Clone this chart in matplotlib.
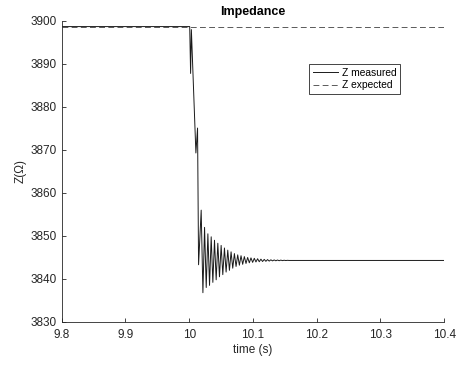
import matplotlib
matplotlib.use("Agg")
import matplotlib.pyplot as plt

plt.rcParams['font.family'] = ['Liberation Sans', 'DejaVu Sans']

# Measured impedance
t_meas = [9.8, 10.0008, 10.0022, 10.0034, 10.0105, 10.0131,
          10.0147, 10.0188, 10.0215, 10.0241, 10.0267, 10.0293, 10.0319, 10.0345,
          10.0371, 10.0397, 10.0423, 10.0449, 10.0475, 10.0501, 10.0527, 10.0553,
          10.0579, 10.0605, 10.0631, 10.0657, 10.0683, 10.0709, 10.0735, 10.0761,
          10.0787, 10.0813, 10.0839, 10.0865, 10.0891, 10.0917, 10.0943, 10.0969,
          10.0995, 10.1021, 10.1047, 10.1073, 10.1099, 10.1125, 10.1151, 10.1177,
          10.1203, 10.1229, 10.1255, 10.1281, 10.1307, 10.1333, 10.1359, 10.1385,
          10.1411, 10.1437, 10.1463, 10.1489, 10.1515, 10.1541, 10.1567, 10.4]
z_meas = [3898.7, 3898.7, 3887.8, 3898.0, 3869.3, 3875.1,
          3843.3, 3856.0, 3836.8, 3852.0, 3838.0, 3850.5, 3838.5, 3849.8,
          3839.2, 3849.0, 3839.8, 3848.3, 3840.5, 3847.8, 3841.0, 3847.2,
          3841.6, 3846.7, 3842.0, 3846.3, 3842.5, 3845.9, 3842.9, 3845.6,
          3843.2, 3845.4, 3843.4, 3845.2, 3843.6, 3845.0, 3843.75, 3844.9,
          3843.85, 3844.8, 3843.95, 3844.7, 3844.0, 3844.6, 3844.05, 3844.55,
          3844.1, 3844.5, 3844.15, 3844.45, 3844.2, 3844.42, 3844.22, 3844.4,
          3844.24, 3844.38, 3844.26, 3844.35, 3844.28, 3844.33, 3844.3, 3844.3]

# Expected impedance
t_exp = [9.8, 10.4]
z_exp = [3898.7, 3898.7]

xticks = [9.8, 9.9, 10.0, 10.1, 10.2, 10.3, 10.4]
xticklabels = ['9.8', '9.9', '10', '10.1', '10.2', '10.3', '10.4']
yticks = [3830, 3840, 3850, 3860, 3870, 3880, 3890, 3900]

fig = plt.figure(figsize=(4.57, 3.65), dpi=100)
ax = fig.add_axes([0.135, 0.118, 0.837, 0.8245])

ax.plot(t_exp, z_exp, color=(0.25, 0.25, 0.25), lw=0.6, dashes=(7, 4), label='Z expected')
ax.plot(t_meas, z_meas, color=(0.1, 0.1, 0.1), lw=0.7, label='Z measured')

ax.set_xlim(9.8, 10.4)
ax.set_ylim(3830, 3900)
ax.set_xticks(xticks)
ax.set_xticklabels(xticklabels)
ax.set_yticks(yticks)

gray = (0.15, 0.15, 0.15)
for s in ['top', 'right']:
    ax.spines[s].set_visible(False)
for s in ['left', 'bottom']:
    ax.spines[s].set_color(gray)
    ax.spines[s].set_linewidth(0.6)
ax.tick_params(direction='in', length=3, width=0.6, colors=gray, labelsize=8.5)
ax.tick_params(axis='x', pad=5)
ax.tick_params(axis='y', pad=3.5)

ax.set_xlabel('time (s)', fontsize=8.5, color=gray, labelpad=2)
ax.set_ylabel('Z(Ω)', fontsize=8.5, color=gray, labelpad=3)
ax.set_title('Impedance', fontsize=9, fontweight='bold', color='black', pad=4)

handles, labels = ax.get_legend_handles_labels()
leg = ax.legend(handles[::-1], labels[::-1], loc='upper left', bbox_to_anchor=(0.647, 0.856),
                fontsize=7.4, frameon=True, fancybox=False, edgecolor=gray, framealpha=1,
                handlelength=2.5, handletextpad=0.3, borderpad=0.35,
                labelspacing=0.25, borderaxespad=0)
leg.get_frame().set_linewidth(0.6)

fig.savefig('out.png', dpi=100)
